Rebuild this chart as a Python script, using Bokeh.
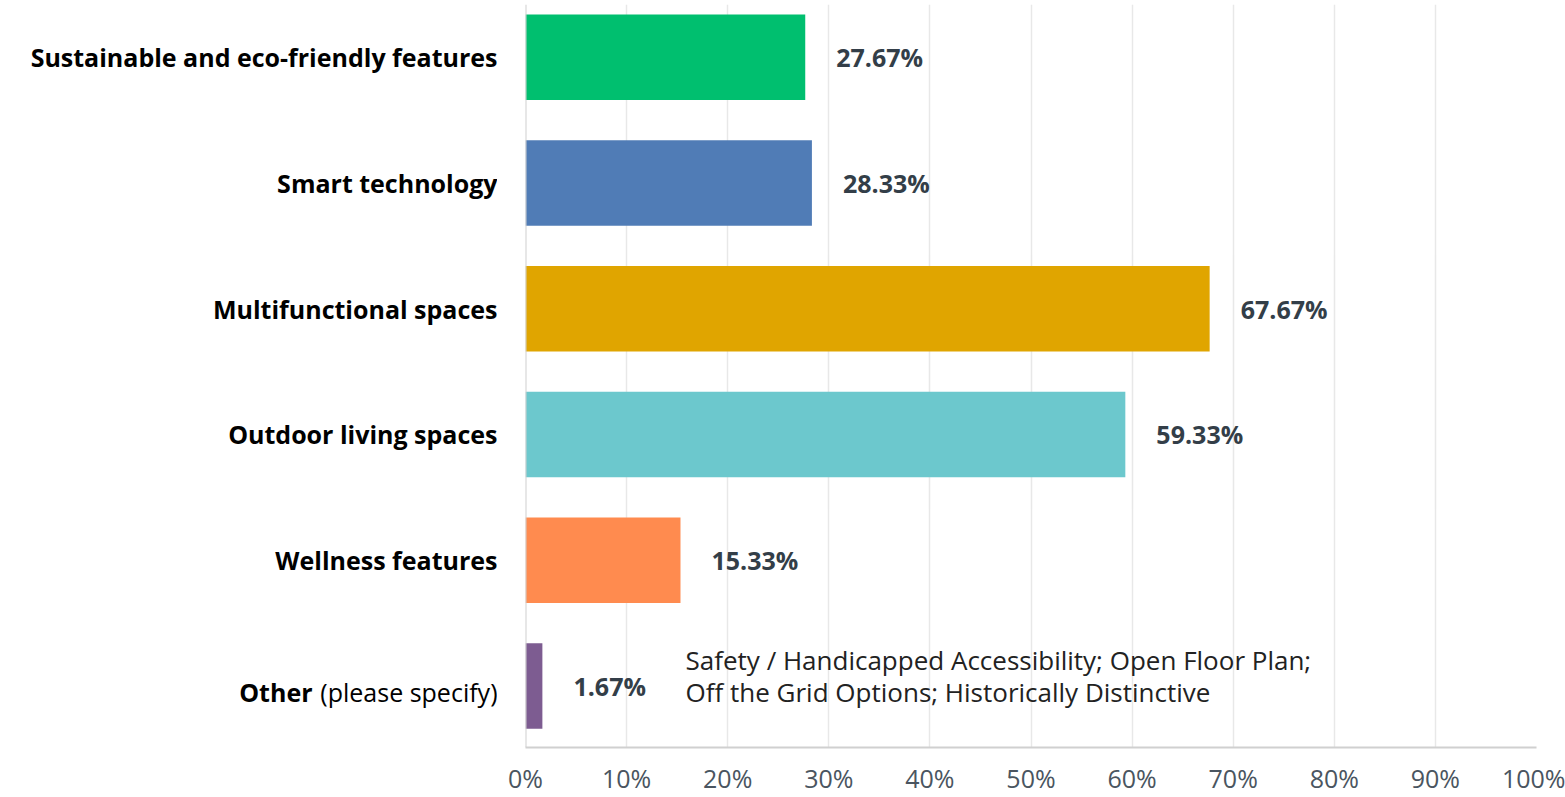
from bokeh.plotting import figure
from bokeh.layouts import row
from bokeh.models import Span, FixedTicker, ColumnDataSource, Range1d
from bokeh.core.properties import value
from bokeh.embed import file_html
from bokeh.resources import INLINE

categories = ["Sustainable and eco-friendly features", "Smart technology",
              "Multifunctional spaces", "Outdoor living spaces",
              "Wellness features", "Other"]
values = [27.67, 28.33, 67.67, 59.33, 15.33, 1.67]
colors = ["#00BF6F", "#507CB6", "#E0A500", "#6CC8CD", "#FF8B4F", "#7D5C91"]
other_suffix = "(please specify)"
other_note = "Safety / Handicapped Accessibility; Open Floor Plan;\nOff the Grid Options; Historically Distinctive"
x_ticks = [0, 10, 20, 30, 40, 50, 60, 70, 80, 90, 100]
x_tick_labels = {t: f"{t}%" for t in x_ticks}

FONT = "Open Sans"
n = len(categories)
ypos = [n - 1 - i for i in range(n)]

W, H = 1565, 797
LEFT_W = 497
GAP = 28
TOP, BOTTOM = 4, 47
yr = Range1d(-0.49, n - 1 + 0.42)


def style_xaxis(ax, visible_text=True):
    ax.major_tick_out = 0
    ax.major_tick_in = 0
    ax.major_tick_line_color = None
    ax.minor_tick_line_color = None
    ax.major_label_text_font = FONT
    ax.major_label_text_font_size = "25px"
    ax.major_label_standoff = 13
    if not visible_text:
        ax.major_label_text_alpha = 0
        ax.axis_line_color = None


# ---- left panel holding category labels ----
lp = figure(width=LEFT_W, height=H, output_backend="svg", toolbar_location=None,
            x_range=Range1d(0, LEFT_W), y_range=yr,
            min_border_left=0, min_border_right=0,
            min_border_top=TOP, min_border_bottom=BOTTOM)
lp.yaxis.visible = False
lp.grid.visible = False
lp.outline_line_color = None
lp.xaxis.ticker = FixedTicker(ticks=[250])
style_xaxis(lp.xaxis[0], visible_text=False)

main_y = [y - 0.05 if c == "Other" else y for c, y in zip(categories, ypos)]
lp.text(x=[497] * (n - 1), y=main_y[:-1], text=categories[:-1], text_font=value(FONT),
        text_font_style="bold", text_font_size="25px", text_color="#000000",
        text_align="right", text_baseline="middle")
lp.text(x=[497], y=[main_y[-1]], text=[other_suffix], text_font=value(FONT),
        text_font_size="25px", text_color="#000000",
        text_align="right", text_baseline="middle")
lp.text(x=[312], y=[main_y[-1]], text=[categories[-1]], text_font=value(FONT),
        text_font_style="bold", text_font_size="25px", text_color="#000000",
        text_align="right", text_baseline="middle")

# ---- main chart ----
p = figure(width=W - LEFT_W, height=H, output_backend="svg", toolbar_location=None,
           x_range=Range1d(0, 100), y_range=yr,
           min_border_left=GAP, min_border_right=29,
           min_border_top=TOP, min_border_bottom=BOTTOM)
p.outline_line_color = None
p.yaxis.visible = False
p.ygrid.visible = False
p.xgrid.grid_line_color = "#E8E8E8"
p.xgrid.grid_line_width = 1.5
p.xaxis.ticker = FixedTicker(ticks=x_ticks)
p.xaxis.major_label_overrides = x_tick_labels
style_xaxis(p.xaxis[0])
p.xaxis.axis_line_color = "#D0D0D0"
p.xaxis.axis_line_width = 2
p.xaxis.major_label_text_color = "#4A5560"

src = ColumnDataSource(dict(y=ypos, v=values, c=colors,
                            lx=[v + 3.07 for v in values],
                            lab=[f"{v:.2f}%" for v in values]))
p.hbar(y="y", right="v", left=0, height=0.68, fill_color="c", line_color=None, source=src)
p.text(x="lx", y="y", text="lab", source=src, text_font=value(FONT),
       text_font_style="bold", text_font_size="25px", text_color="#333E48",
       text_align="left", text_baseline="middle")

p.add_layout(Span(location=0, dimension="height", line_color="#D0D0D0", line_width=2))

p.text(x=[15.83], y=[ypos[-1] + 0.077], text=[other_note], text_font=value(FONT),
       text_font_size="26px", text_color="#222222", text_align="left",
       text_baseline="middle", text_line_height=0.88)

layout = row(lp, p)
open("out.html", "w").write(file_html(layout, INLINE))
